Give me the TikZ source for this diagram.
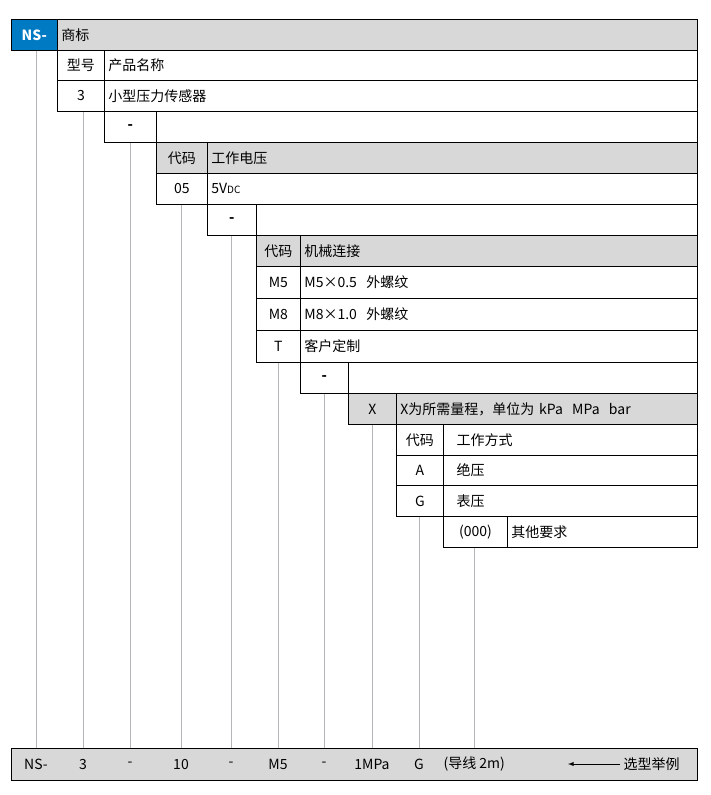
\documentclass[tikz,border=0pt]{standalone}
\usepackage{fontspec}
\setmainfont{Noto Sans CJK SC}
\begin{document}
\definecolor{hd}{RGB}{216,216,216}
\definecolor{nb}{RGB}{0,122,195}
\definecolor{ln}{RGB}{180,180,185}
\newcommand\cc[8]{%
 \pgfmathsetmacro\ww{#4-#2-8}\pgfmathsetmacro\hh{#5-#3}%
 \node[box,#6,anchor=north west,text width=\ww pt,minimum height=\hh pt,align=#7] (#1) at (#2,#3) {#8};}
\begin{tikzpicture}[x=1pt,y=-1pt,
 box/.style={draw=black,line width=0.8pt,inner xsep=4pt,inner ysep=0pt,font=\fontsize{14}{16}\selectfont},
 g/.style={fill=hd}, w/.style={fill=white},
 vl/.style={draw=ln,line width=0.9pt},
 bt/.style={font=\fontsize{14}{16}\selectfont}]
\useasboundingbox (0,0) rectangle (711,795);
\foreach \n/\x/\y in {a/36/50,b/83/111,c/130/142,d/181/204,e/231/235,f/278/362,g/324/393,h/372/424,i/419/516,j/474/547}{
 \coordinate (t\n) at (\x,\y); \coordinate (b\n) at (\x,748); \draw[vl] (t\n) -- (b\n);}
\cc{ns}{11}{19}{57}{50}{fill=nb,text=white,font=\bfseries\fontsize{14}{16}\selectfont}{center}{NS-}
\cc{r0}{57}{19}{697}{50}{g}{left}{商标}
\cc{r1a}{57}{50}{104}{80}{w}{center}{型号}
\cc{r1b}{104}{50}{697}{80}{w}{left}{产品名称}
\cc{r2a}{57}{80}{104}{111}{w}{center}{3}
\cc{r2b}{104}{80}{697}{111}{w}{left}{小型压力传感器}
\cc{r3a}{104}{111}{156}{142}{w}{center}{\textbf{-}}
\cc{r3b}{156}{111}{697}{142}{w}{left}{}
\cc{r4a}{156}{142}{207}{173}{g}{center}{代码}
\cc{r4b}{207}{142}{697}{173}{g}{left}{工作电压}
\cc{r5a}{156}{173}{207}{204}{w}{center}{05}
\cc{r5b}{207}{173}{697}{204}{w}{left}{5V{\fontsize{10}{11}\selectfont DC}}
\cc{r6a}{207}{204}{256}{235}{w}{center}{\textbf{-}}
\cc{r6b}{256}{204}{697}{235}{w}{left}{}
\cc{r7a}{256}{235}{300}{266}{g}{center}{代码}
\cc{r7b}{300}{235}{697}{266}{g}{left}{机械连接}
\cc{r8a}{256}{266}{300}{298}{w}{center}{M5}
\cc{r8b}{300}{266}{697}{298}{w}{left}{M5×0.5\ \ 外螺纹}
\cc{r9a}{256}{298}{300}{330}{w}{center}{M8}
\cc{r9b}{300}{298}{697}{330}{w}{left}{M8×1.0\ \ 外螺纹}
\cc{r10a}{256}{330}{300}{362}{w}{center}{T}
\cc{r10b}{300}{330}{697}{362}{w}{left}{客户定制}
\cc{r11a}{300}{362}{348}{393}{w}{center}{\textbf{-}}
\cc{r11b}{348}{362}{697}{393}{w}{left}{}
\cc{r12a}{348}{393}{396}{424}{g}{center}{X}
\cc{r12b}{396}{393}{697}{424}{g}{left}{X为所需量程，单位为 kPa\ \ MPa\ \ bar}
\cc{r13a}{396}{424}{443}{455}{w}{center}{代码}
\cc{r13b}{443}{424}{697}{455}{w}{left}{\ \ 工作方式}
\cc{r14a}{396}{455}{443}{485}{w}{center}{A}
\cc{r14b}{443}{455}{697}{485}{w}{left}{\ \ 绝压}
\cc{r15a}{396}{485}{443}{516}{w}{center}{G}
\cc{r15b}{443}{485}{697}{516}{w}{left}{\ \ 表压}
\cc{r16a}{443}{516}{507}{547}{w}{center}{(000)}
\cc{r16b}{507}{516}{697}{547}{w}{left}{其他要求}
\node[draw=black,line width=0.8pt,fill=hd,anchor=north west,minimum width=686pt,minimum height=32pt,inner sep=0pt] (ex) at (11,748) {};
\foreach \n/\x/\t in {1/36/NS-,2/83/3,3/130/-,4/181/10,5/231/-,6/278/M5,7/324/-,8/372/1MPa,9/419/G}{
 \node[bt] (e\n) at (\x,764) {\t};}
\node[bt,anchor=west] (e10) at (440,764) {(导线 2m)};
\node[bt,anchor=west] (e11) at (620,764) {选型举例};
\draw[line width=0.9pt,-latex] (e11.west) -- (568,764);
\end{tikzpicture}
\end{document}
